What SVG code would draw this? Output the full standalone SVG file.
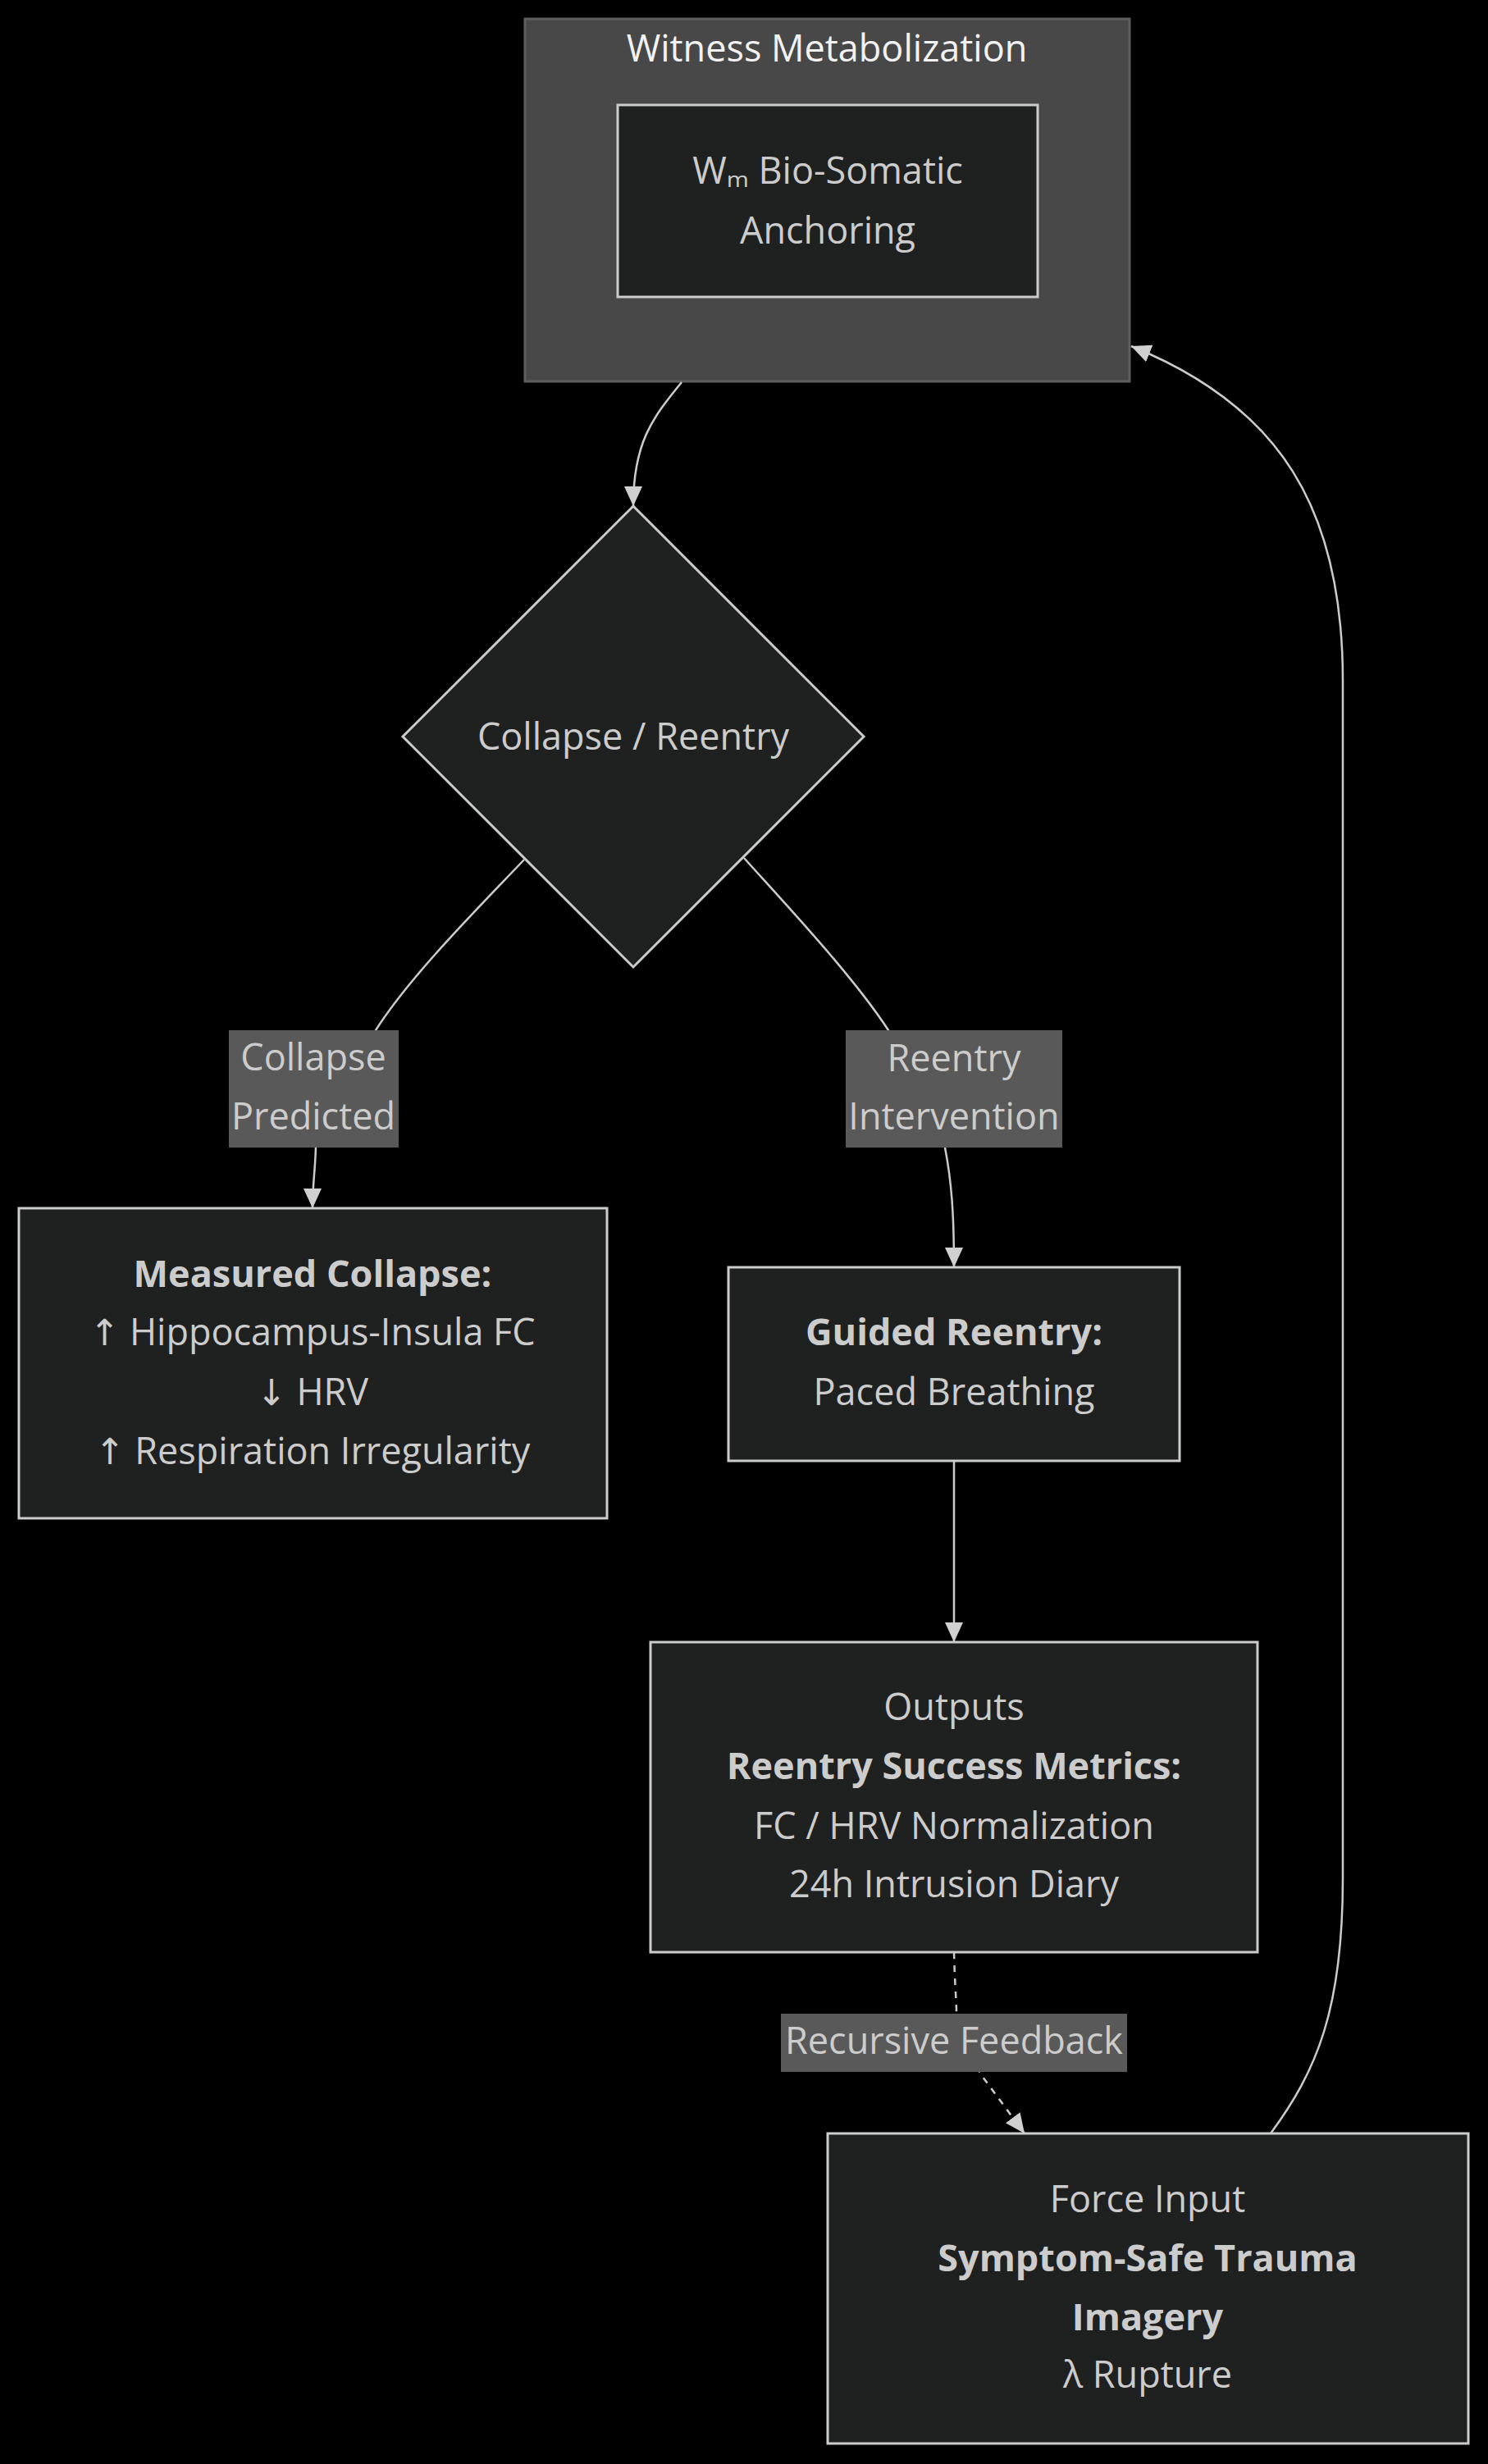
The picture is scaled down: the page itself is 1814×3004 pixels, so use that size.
<svg xmlns="http://www.w3.org/2000/svg" width="1814" height="3004" viewBox="0 0 1814 3004">
<defs>
<style>
.bg{fill:#000000;}
.cluster{fill:#484848;stroke:#5e5e5e;stroke-width:3;}
.node{fill:#1f2020;stroke:#cccccc;stroke-width:3;}
.lbl{fill:#595959;}
.edge{fill:none;stroke:#cccccc;stroke-width:2.5;}
.dotted{stroke-dasharray:8 8;}
text{font-family:"Open Sans","Liberation Sans",sans-serif;font-size:45px;fill:#cccccc;text-anchor:middle;}
.title{fill:#f2f2f2;}
.b{font-weight:700;}
.ar{font-family:"DejaVu Sans",sans-serif;font-size:44px;}
</style>
<marker id="arr" viewBox="0 0 24 22" refX="24" refY="11" markerWidth="24" markerHeight="22" markerUnits="userSpaceOnUse" orient="auto">
<path d="M0,0 L24,11 L0,22 z" fill="#d0d0d0"/>
</marker>
</defs>
<rect class="bg" x="0" y="0" width="1814" height="3004"/>

<g id="cluster-witness">
<rect class="cluster" x="640" y="23" width="737" height="442"/>
<text class="title" x="1008" y="75">Witness Metabolization</text>
</g>

<g id="connectors">
<path class="edge" d="M 831 466 C 795 510, 772 540, 772 617" marker-end="url(#arr)"/>
<path class="edge" d="M 639 1048 C 580 1110, 500 1190, 458 1256 L 385 1399 C 384 1430, 381 1445, 381 1473" marker-end="url(#arr)"/>
<path class="edge" d="M 907 1046 C 960 1105, 1040 1190, 1083 1256 L 1152 1399 C 1160 1440, 1163 1480, 1163 1545" marker-end="url(#arr)"/>
<path class="edge" d="M 1163 1781 L 1163 2002" marker-end="url(#arr)"/>
<path class="edge dotted" d="M 1163 2380 C 1164 2420, 1166 2440, 1166 2455 L 1195 2528 L 1249 2601" marker-end="url(#arr)"/>
<path class="edge" d="M 1549 2601 C 1605 2525, 1637 2450, 1637 2290 L 1637 830 C 1637 620, 1560 495, 1379 422" marker-end="url(#arr)"/>
</g>

<g id="edge-labels">
<g id="label-collapse-predicted">
<rect class="lbl" x="279" y="1256" width="207" height="143"/>
<text x="382" y="1305">Collapse</text>
<text x="382" y="1377">Predicted</text>
</g>
<g id="label-reentry-intervention">
<rect class="lbl" x="1031" y="1256" width="264" height="143"/>
<text x="1163" y="1306">Reentry</text>
<text x="1163" y="1377">Intervention</text>
</g>
<g id="label-recursive-feedback">
<rect class="lbl" x="952" y="2455" width="422" height="71"/>
<text x="1163" y="2504">Recursive Feedback</text>
</g>
</g>

<g id="node-anchoring">
<rect class="node" x="753" y="128" width="512" height="234"/>
<text x="1009" y="224">Wₘ Bio-Somatic</text>
<text x="1009" y="297">Anchoring</text>
</g>

<g id="node-decision">
<polygon class="node" points="772,617 1053,898 772,1179 491,898"/>
<text x="772" y="914">Collapse / Reentry</text>
</g>

<g id="node-measured-collapse">
<rect class="node" x="23" y="1473" width="717" height="378"/>
<text class="b" x="381" y="1569">Measured Collapse:</text>
<text x="381" y="1640"><tspan class="ar">↑</tspan> Hippocampus-Insula FC</text>
<text x="381" y="1713"><tspan class="ar">↓</tspan> HRV</text>
<text x="381" y="1785"><tspan class="ar">↑</tspan> Respiration Irregularity</text>
</g>

<g id="node-guided-reentry">
<rect class="node" x="888" y="1545" width="550" height="236"/>
<text class="b" x="1163" y="1640">Guided Reentry:</text>
<text x="1163" y="1713">Paced Breathing</text>
</g>

<g id="node-outputs">
<rect class="node" x="793" y="2002" width="740" height="378"/>
<text x="1163" y="2097">Outputs</text>
<text class="b" x="1163" y="2169">Reentry Success Metrics:</text>
<text x="1163" y="2242">FC / HRV Normalization</text>
<text x="1163" y="2313">24h Intrusion Diary</text>
</g>

<g id="node-force-input">
<rect class="node" x="1009" y="2601" width="781" height="378"/>
<text x="1399" y="2697">Force Input</text>
<text class="b" x="1399" y="2769">Symptom-Safe Trauma</text>
<text class="b" x="1399" y="2841">Imagery</text>
<text x="1399" y="2911">λ Rupture</text>
</g>
</svg>
